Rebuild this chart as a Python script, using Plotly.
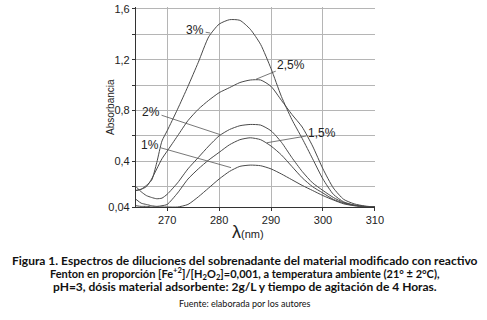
import plotly.graph_objects as go

# wavelength (nm)
wavelength = [264, 265, 266, 267, 268, 269, 270, 272, 274, 276, 278, 280, 282, 284,
              286, 288, 290, 292, 294, 296, 298, 300, 302, 304, 306, 308, 310]
abs_3 = [0.17, 0.18, 0.21, 0.25, 0.39, 0.56, 0.64, 0.81, 0.99, 1.18, 1.38, 1.48, 1.515, 1.51,
         1.44, 1.32, 1.13, 0.91, 0.73, 0.58, 0.42, 0.26, 0.14, 0.08, 0.055, 0.045, 0.04]
abs_25 = [0.17, 0.18, 0.20, 0.26, 0.34, 0.42, 0.48, 0.60, 0.72, 0.81, 0.88, 0.94, 0.98, 1.02,
          1.04, 1.04, 0.99, 0.88, 0.77, 0.67, 0.52, 0.34, 0.19, 0.10, 0.065, 0.048, 0.04]
abs_2 = [0.20, 0.16, 0.13, 0.115, 0.105, 0.11, 0.14, 0.23, 0.34, 0.43, 0.52, 0.60, 0.65, 0.68,
         0.69, 0.685, 0.64, 0.55, 0.43, 0.32, 0.23, 0.17, 0.115, 0.075, 0.055, 0.045, 0.04]
abs_15 = [0.10, 0.07, 0.06, 0.05, 0.045, 0.05, 0.06, 0.15, 0.26, 0.34, 0.41, 0.47, 0.53, 0.57,
          0.585, 0.57, 0.52, 0.45, 0.36, 0.27, 0.20, 0.15, 0.10, 0.07, 0.052, 0.043, 0.04]
abs_1 = [0.05, 0.045, 0.045, 0.04, 0.04, 0.04, 0.04, 0.04, 0.06, 0.12, 0.19, 0.26, 0.32, 0.36,
         0.37, 0.365, 0.34, 0.30, 0.255, 0.21, 0.17, 0.13, 0.095, 0.065, 0.05, 0.042, 0.04]

series_names = ["3%", "2,5%", "2%", "1,5%", "1%"]
series_values = [abs_3, abs_25, abs_2, abs_15, abs_1]

y_tickvals = [0.04, 0.2, 0.4, 0.6, 0.8, 1.0, 1.2, 1.4, 1.6]
y_ticktext = ["0,04", "", "0,4", "", "0,8", "", "1,2", "", "1,6"]
x_tickvals = [270, 280, 290, 300, 310]
x_ticktext = ["270", "280", "290", "300", "310"]

# label placement: (curve point x, y, text x, y)
label_pos = {
    "3%": (278.3, 1.41, 275.4, 1.43),
    "2,5%": (287.1, 1.046, 293.9, 1.16),
    "2%": (280.2, 0.61, 266.9, 0.79),
    "1,5%": (289.2, 0.546, 299.8, 0.62),
    "1%": (282.3, 0.35, 266.7, 0.53),
}

fig = go.Figure()
for name, vals in zip(series_names, series_values):
    fig.add_trace(go.Scatter(x=wavelength, y=vals, mode="lines", name=name,
                             line=dict(color="#4a4a4a", width=1, shape="spline", smoothing=0.6),
                             showlegend=False, hoverinfo="skip"))

W, H = 487, 320
L, R, T, B = 136, 112, 3, 113

annotations = []
for name in series_names:
    px, py, tx, ty = label_pos[name]
    annotations.append(dict(x=px, y=py, ax=tx, ay=ty, xref="x", yref="y", axref="x", ayref="y",
                            text=name, showarrow=True, arrowhead=0, arrowwidth=0.8,
                            arrowcolor="#555", standoff=0, startstandoff=0,
                            font=dict(family="Liberation Sans, Arial", size=12, color="#222")))

plot_h = H - T - B
def py_to_paper(py):
    return (H - B - py) / plot_h

plot_w = W - L - R
def px_to_paper(px):
    return (px - L) / plot_w

annotations.append(dict(x=px_to_paper(110), y=py_to_paper(105), xref="paper", yref="paper",
                        xanchor="center", yanchor="middle",
                        text="Absorbancia", textangle=-90, showarrow=False,
                        font=dict(family="Liberation Sans, Arial", size=10, color="#222")))
annotations.append(dict(x=px_to_paper(248), y=py_to_paper(233), xref="paper", yref="paper",
                        xanchor="center", yanchor="middle",
                        text="<span style='font-size:18px'>λ</span>(nm)", showarrow=False,
                        font=dict(family="Liberation Sans, Arial", size=11, color="#222")))

caption = [
    ("<b>Figura 1. Espectros de diluciones del sobrenadante del material modificado con reactivo</b>", 262, 12),
    ("<b>Fenton en proporción [Fe<sup>+2</sup>]/[H<sub>2</sub>O<sub>2</sub>]=0,001, a temperatura ambiente (21° ± 2°C),</b>", 275, 11),
    ("<b>pH=3, dósis material adsorbente: 2g/L y tiempo de agitación de 4 Horas.</b>", 288, 12),
]
for txt, yy, fs in caption:
    annotations.append(dict(x=px_to_paper(245), y=py_to_paper(yy), xref="paper", yref="paper",
                            xanchor="center", yanchor="middle",
                            text=txt, showarrow=False,
                            font=dict(family="Lato", size=fs, color="#111")))
annotations.append(dict(x=px_to_paper(245), y=py_to_paper(305), xref="paper", yref="paper",
                        xanchor="center", yanchor="middle",
                        text="Fuente: elaborada por los autores", showarrow=False,
                        font=dict(family="Lato", size=9, color="#111")))

tick_font = dict(family="Liberation Sans, Arial", size=11, color="#222")
fig.update_layout(
    width=W, height=H, margin=dict(l=L, r=R, t=T, b=B, pad=0),
    paper_bgcolor="white", plot_bgcolor="white",
    annotations=annotations,
    xaxis=dict(range=[264, 310.02], tickvals=x_tickvals, ticktext=x_ticktext,
               showgrid=True, gridcolor="#b5b5b5", gridwidth=1, zeroline=False,
               showline=True, linecolor="#333", linewidth=1.2, ticks="outside", ticklen=3,
               tickcolor="#333", tickfont=tick_font, ticklabeloverflow="allow"),
    yaxis=dict(range=[0.04, 1.615], tickvals=y_tickvals, ticktext=y_ticktext,
               showgrid=True, gridcolor="#b5b5b5", gridwidth=1, zeroline=False,
               showline=True, linecolor="#333", linewidth=1.2, ticks="outside", ticklen=3,
               tickcolor="#333", tickfont=tick_font, ticklabeloverflow="allow"),
)

fig.write_html("out.html", config={"displayModeBar": False},
               post_script="document.body.style.margin='0';document.body.style.padding='0';")
